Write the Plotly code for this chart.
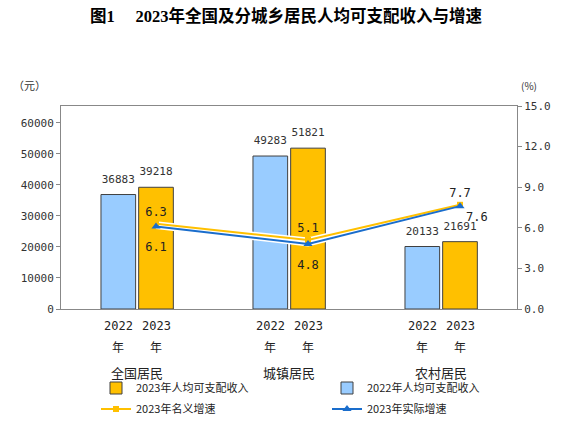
import plotly.graph_objects as go

groups = ["全国居民", "城镇居民", "农村居民"]
years = ["2022", "2023"]
income_2022 = [36883, 49283, 20133]
income_2023 = [39218, 51821, 21691]
growth_nominal = [6.3, 5.1, 7.7]
growth_real = [6.1, 4.8, 7.6]
left_ticks = [0, 10000, 20000, 30000, 40000, 50000, 60000]
right_ticks = [0, 3, 6, 9, 12, 15]

BLUE_BAR = "#99CCFF"
GOLD = "#FFC000"
BLUE_LINE = "#1A6DCC"
MONO = "DejaVu Sans Mono"
CJK = "Noto Sans CJK SC"

W, H = 572, 423
L, R, T, B = 61, 55, 106, 114

BAR_W = 0.228
OFF_22, OFF_23 = -0.237, 0.011
xs = list(range(len(groups)))
x22 = [x + OFF_22 + BAR_W / 2 for x in xs]
x23 = [x + OFF_23 + BAR_W / 2 for x in xs]

fig = go.Figure()

fig.add_trace(go.Bar(
    x=xs, y=income_2022, name="2022年人均可支配收入", width=BAR_W, offset=OFF_22,
    marker=dict(color=BLUE_BAR, line=dict(color="#404040", width=1)),
    legend="legend2",
))
fig.add_trace(go.Bar(
    x=xs, y=income_2023, name="2023年人均可支配收入", width=BAR_W, offset=OFF_23,
    marker=dict(color=GOLD, line=dict(color="#404040", width=1)),
    legend="legend",
))

# bar value labels (invisible markers give the gap above the bar top)
for xv, vals in ((x22, income_2022), (x23, income_2023)):
    fig.add_trace(go.Scatter(
        x=xv, y=vals, mode="markers+text", text=[str(v) for v in vals],
        textposition="top center", marker=dict(size=13, opacity=0),
        textfont=dict(family=MONO, size=11, color="#333"),
        showlegend=False, hoverinfo="skip", cliponaxis=False,
    ))

# white halo under the lines
for vals in (growth_nominal, growth_real):
    fig.add_trace(go.Scatter(
        x=x23, y=vals, yaxis="y2", mode="lines",
        line=dict(color="white", width=5), showlegend=False, hoverinfo="skip",
    ))

fig.add_trace(go.Scatter(
    x=x23, y=growth_nominal, yaxis="y2", name="2023年名义增速",
    mode="lines+markers+text",
    line=dict(color=GOLD, width=2), marker=dict(symbol="square", size=6, color=GOLD),
    text=[f"{v:.1f}" for v in growth_nominal], textposition="top center",
    textfont=dict(family=MONO, size=12, color="#222"), legend="legend3",
))
fig.add_trace(go.Scatter(
    x=x23, y=growth_real, yaxis="y2", name="2023年实际增速",
    mode="lines+markers",
    line=dict(color=BLUE_LINE, width=2), marker=dict(symbol="triangle-up", size=8, color=BLUE_LINE),
    legend="legend4",
))
fig.add_trace(go.Scatter(
    x=x23, y=growth_real, yaxis="y2", mode="markers+text",
    marker=dict(size=[24, 24, 8], opacity=0),
    text=[f"{v:.1f}" for v in growth_real],
    textposition=["bottom center", "bottom center", "bottom right"],
    textfont=dict(family=MONO, size=12, color="#222"),
    showlegend=False, hoverinfo="skip",
))

ph = H - T - B
pw = W - L - R


def py(p):
    # pixel row -> paper y
    return (H - B - p) / ph


def px_(p):
    # pixel column -> paper x
    return (p - L) / pw


annotations = []
for i, g in enumerate(groups):
    for xv, yr in ((x22[i], years[0]), (x23[i], years[1])):
        annotations.append(dict(x=xv, y=py(326), xref="x", yref="paper", text=yr,
                                xanchor="center", yanchor="middle", showarrow=False,
                                font=dict(family=MONO, size=12, color="#222")))
        annotations.append(dict(x=xv, y=py(346), xref="x", yref="paper", text="年",
                                xanchor="center", yanchor="middle", showarrow=False,
                                font=dict(family=CJK, size=12, color="#222")))
    annotations.append(dict(x=i, y=py(372), xref="x", yref="paper", text=g,
                            xanchor="center", yanchor="middle", showarrow=False,
                            font=dict(family=CJK, size=13, color="#222")))
annotations.append(dict(x=px_(29), y=py(85), xref="paper", yref="paper", text="（元）",
                        xanchor="center", yanchor="middle", showarrow=False,
                        font=dict(family=CJK, size=11, color="#333")))
annotations.append(dict(x=px_(529), y=py(85), xref="paper", yref="paper", text="(%)",
                        xanchor="center", yanchor="middle", showarrow=False,
                        font=dict(family=CJK, size=10, color="#333")))


def legend_at(xpix, ypix):
    return dict(orientation="v", xref="container", yref="container", xanchor="left",
                yanchor="middle", x=xpix / W, y=1 - ypix / H, itemwidth=30,
                font=dict(family=CJK, size=11, color="#222"), bgcolor="rgba(0,0,0,0)")


fig.update_layout(
    width=W, height=H,
    margin=dict(l=L, r=R, t=T, b=B, autoexpand=False),
    paper_bgcolor="white", plot_bgcolor="white",
    title=dict(text="<b>图1　 2023年全国及分城乡居民人均可支配收入与增速</b>",
               x=0.5, xanchor="center", y=1 - 16 / H, yanchor="middle",
               font=dict(family="Liberation Serif, " + CJK, size=16.5, color="black")),
    barmode="overlay",
    xaxis=dict(range=[-0.5, 2.5], showticklabels=False, ticks="",
               showline=True, linecolor="#888", mirror=True, showgrid=False, zeroline=False),
    yaxis=dict(range=[0, 65400], tickvals=left_ticks, tickformat="d", showgrid=False, zeroline=False,
               showline=True, linecolor="#888", ticks="outside", ticklen=4, tickcolor="#888",
               tickfont=dict(family=MONO, size=11, color="#333")),
    yaxis2=dict(range=[0, 15], overlaying="y", side="right", tickvals=right_ticks,
                tickformat=".1f", showgrid=False, zeroline=False,
                showline=True, linecolor="#888", ticks="outside", ticklen=4, tickcolor="#888",
                tickfont=dict(family=MONO, size=11, color="#333")),
    legend=legend_at(96, 388),
    legend2=legend_at(327, 388),
    legend3=legend_at(96, 409),
    legend4=legend_at(327, 409),
    annotations=annotations,
    showlegend=True,
)

fig.write_html("out.html", config={"displayModeBar": False},
               post_script="document.body.style.margin='0';")
